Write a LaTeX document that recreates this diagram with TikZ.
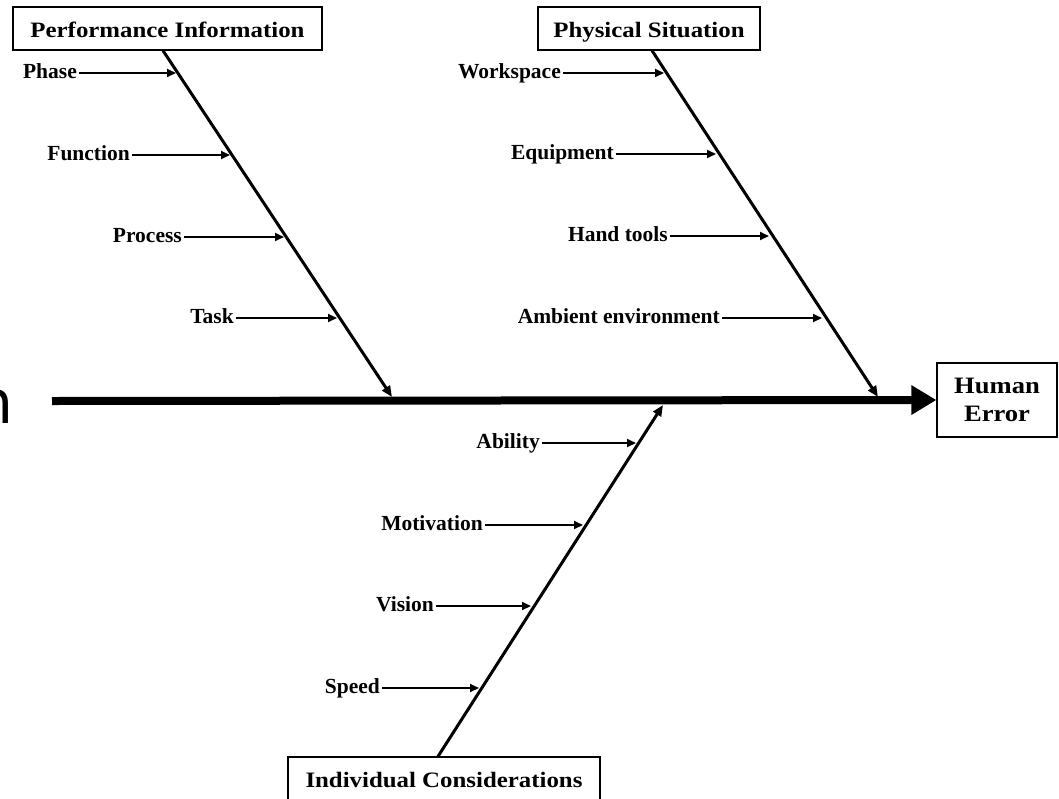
\documentclass[tikz,border=0pt]{standalone}
\usepackage{fontspec}
\setmainfont{Liberation Serif}
\newfontfamily\hdrfont[FakeStretch=1.13]{Liberation Serif}
\newfontfamily\bigsans{DejaVu Sans}
\usetikzlibrary{arrows.meta,calc}
\tikzset{
  hdr/.style={draw, line width=1.2pt, inner sep=0pt, font=\hdrfont\bfseries\fontsize{22}{28}\selectfont},
  lbl/.style={inner sep=0pt, anchor=east, text height=10pt, text depth=0pt, font=\bfseries\fontsize{21.5}{24}\selectfont},
  bone/.style={line width=3pt, -{Triangle[length=11pt,width=9pt]}},
  sub/.style={line width=1.8pt, -{Triangle[length=9pt,width=8pt]}},
  spine/.style={line width=8pt, -{Triangle[length=25pt,width=28pt]}}
}
\begin{document}
\begin{tikzpicture}[x=1pt,y=-1pt]
\useasboundingbox (0,0) rectangle (1059,798);
\fill[white] (0,0) rectangle (1059,798);

% stray partial glyph at the left edge
\node[font=\bigsans\fontsize{60}{60}\selectfont, inner sep=0pt, anchor=base east] (nn) at (14,423) {n};

% category boxes
\node[hdr, minimum width=309pt, minimum height=43pt, text height=17pt, text depth=0pt] (pi) at (167.5,28.5) {Performance Information};
\node[hdr, minimum width=222pt, minimum height=43pt, text height=17pt, text depth=0pt] (ps) at (649,28.5) {Physical Situation};
\node[hdr, minimum width=312pt, minimum height=50pt] (ic) at (444,782) {};
\node[font=\hdrfont\bfseries\fontsize{22}{28}\selectfont, inner sep=0pt, anchor=base] (ict) at (444,787) {Individual Considerations};
\node[hdr, minimum width=120pt, minimum height=74pt, align=center, font=\hdrfont\bfseries\fontsize{23.5}{28}\selectfont] (he) at (997,400) {Human\\Error};

% spine
\coordinate (spS) at (52,401);
\draw[spine] (spS) -- (he.west);

% bones
\coordinate (piE) at (392,397);
\coordinate (psE) at (878,397);
\coordinate (icE) at (663,405);
\draw[bone] ([xshift=-4.5pt]pi.south) -- (piE);
\draw[bone] ([xshift=3pt]ps.south) -- (psE);
\draw[bone] ([xshift=-6pt]ic.north) -- (icE);

% Performance Information causes
\node[lbl] (phase) at (77,73) {Phase};
\node[lbl] (func) at (130,155) {Function};
\node[lbl] (proc) at (182,237) {Process};
\node[lbl] (task) at (234,318) {Task};
\coordinate (phaseT) at (176,73);
\coordinate (funcT) at (230,155);
\coordinate (procT) at (284,237);
\coordinate (taskT) at (337,318);
\draw[sub] ([xshift=2pt]phase.east) -- (phaseT);
\draw[sub] ([xshift=2pt]func.east) -- (funcT);
\draw[sub] ([xshift=2pt]proc.east) -- (procT);
\draw[sub] ([xshift=2pt]task.east) -- (taskT);

% Physical Situation causes
\node[lbl] (work) at (561,73) {Workspace};
\node[lbl] (equip) at (614,154) {Equipment};
\node[lbl] (hand) at (668,236) {Hand tools};
\node[lbl] (amb) at (720,318) {Ambient environment};
\coordinate (workT) at (664,73);
\coordinate (equipT) at (716,154);
\coordinate (handT) at (769,236);
\coordinate (ambT) at (822,318);
\draw[sub] ([xshift=2pt]work.east) -- (workT);
\draw[sub] ([xshift=2pt]equip.east) -- (equipT);
\draw[sub] ([xshift=2pt]hand.east) -- (handT);
\draw[sub] ([xshift=2pt]amb.east) -- (ambT);

% Individual Considerations causes
\node[lbl] (abil) at (540,443) {Ability};
\node[lbl] (motiv) at (483,525) {Motivation};
\node[lbl] (vis) at (434,606) {Vision};
\node[lbl] (speed) at (380,688) {Speed};
\coordinate (abilT) at (636,443);
\coordinate (motivT) at (583,525);
\coordinate (visT) at (531,606);
\coordinate (speedT) at (479,688);
\draw[sub] ([xshift=2pt]abil.east) -- (abilT);
\draw[sub] ([xshift=2pt]motiv.east) -- (motivT);
\draw[sub] ([xshift=2pt]vis.east) -- (visT);
\draw[sub] ([xshift=2pt]speed.east) -- (speedT);
\end{tikzpicture}
\end{document}
